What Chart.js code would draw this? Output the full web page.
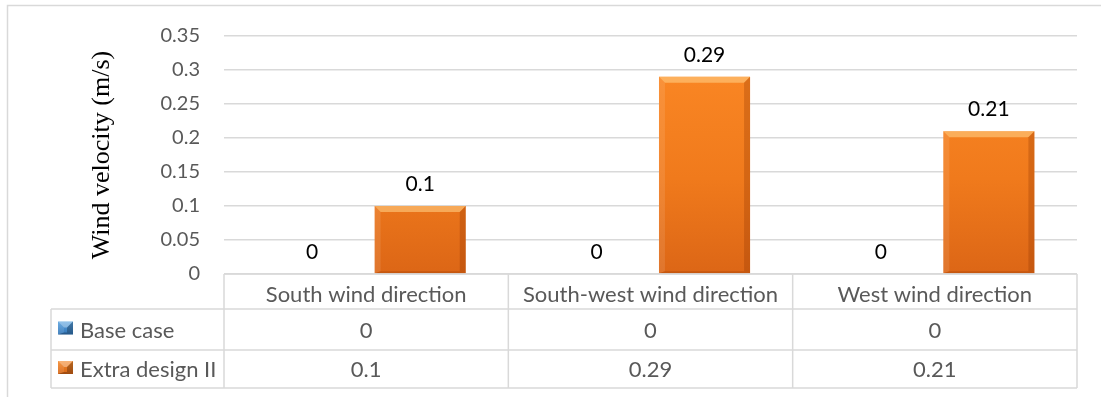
<!DOCTYPE html>
<html>
<head>
<meta charset="utf-8">
<script src="https://cdn.jsdelivr.net/npm/chart.js@4/dist/chart.umd.min.js"></script>
<style>
  html, body { margin: 0; padding: 0; background: #fff; }
  #wrap { width: 1101px; height: 397px; position: relative; }
</style>
</head>
<body>
<div id="wrap"><canvas id="chart"></canvas></div>
<script>
// データ ---------------
const categories = ["South wind direction", "South-west wind direction", "West wind direction"];
const seriesNames = ["Base case", "Extra design II"];
const baseCase = [0, 0, 0];
const extraDesign = [0.1, 0.29, 0.21];
const yTickLabels = ["0", "0.05", "0.1", "0.15", "0.2", "0.25", "0.3", "0.35"];
const yTitle = "Wind velocity (m/s)";

// 見た目 ---------------
const GRID = "#d9d9d9";
const TEXT = "#595959";
const FONT = "Lato, 'Open Sans', sans-serif";
const headerH = 35, row1H = 41, row2H = 38; // データ表の行の高さ
const tableLeft = 51;

function poly(c, pts, fill) {
  c.beginPath();
  c.moveTo(pts[0][0], pts[0][1]);
  for (let i = 1; i < pts.length; i++) c.lineTo(pts[i][0], pts[i][1]);
  c.closePath();
  c.fillStyle = fill;
  c.fill();
}

function line(c, x1, y1, x2, y2) {
  c.beginPath();
  c.moveTo(x1, y1);
  c.lineTo(x2, y2);
  c.stroke();
}

// 面取りっぽい棒の見た目
function drawBevel(c, l, t, r, b, light, dark) {
  const s = 6;
  poly(c, [[l, t], [r, t], [r - s, t + s], [l + s, t + s]], light);
  poly(c, [[l, t], [l + s, t + s], [l + s, b - 2], [l, b]], "rgba(255,255,255,0.10)");
  poly(c, [[r, t], [r, b], [r - s, b - 2], [r - s, t + s]], dark);
  poly(c, [[l, b], [r, b], [r - s, b - 2], [l + s, b - 2]], dark);
}

function orangeFill(ctx) {
  const area = ctx.chart.chartArea;
  if (!area) return "#f47f1e";
  const g = ctx.chart.ctx.createLinearGradient(0, area.top, 0, area.bottom);
  g.addColorStop(0, "#fd8a26");
  g.addColorStop(0.6, "#f07a1c");
  g.addColorStop(1, "#dc6616");
  return g;
}

// 外枠
const framePlugin = {
  id: "frame",
  beforeDraw(chart) {
    const c = chart.ctx;
    c.save();
    c.fillStyle = "#fff";
    c.fillRect(0, 0, chart.width, chart.height);
    c.strokeStyle = GRID;
    c.lineWidth = 1.5;
    c.strokeRect(7.5, 5.5, chart.width + 10, chart.height + 10);
    c.restore();
  }
};

// 棒の面取りと値ラベル
const barDecor = {
  id: "barDecor",
  afterDatasetsDraw(chart) {
    const c = chart.ctx;
    c.save();
    chart.data.datasets.forEach((ds, di) => {
      chart.getDatasetMeta(di).data.forEach((bar, i) => {
        const p = bar.getProps(["x", "y", "base", "width"], true);
        if (p.base - p.y > 2) {
          drawBevel(c, p.x - p.width / 2, p.y, p.x + p.width / 2, p.base,
            "rgba(255,205,130,0.6)", "rgba(140,50,0,0.28)");
        }
        c.fillStyle = "#000";
        c.font = "21px " + FONT;
        c.textAlign = "center";
        c.textBaseline = "alphabetic";
        c.fillText(String(ds.data[i]), p.x, p.y - 15);
      });
    });
    c.restore();
  }
};

// データ表
const dataTable = {
  id: "dataTable",
  afterDraw(chart) {
    const c = chart.ctx;
    const area = chart.chartArea;
    const xs = chart.scales.x;
    const colW = (area.right - area.left) / categories.length;
    const top = area.bottom, y1 = top + headerH, y2 = y1 + row1H, y3 = y2 + row2H;
    c.save();
    c.strokeStyle = GRID;
    c.lineWidth = 1.5;
    line(c, area.left, top, area.right, top);
    line(c, tableLeft, y1, area.right, y1);
    line(c, tableLeft, y2, area.right, y2);
    line(c, tableLeft, y3, area.right, y3);
    line(c, tableLeft, y1, tableLeft, y3);
    for (let i = 0; i <= categories.length; i++) {
      const xv = area.left + i * colW;
      line(c, xv, top, xv, y3);
    }

    c.fillStyle = TEXT;
    c.font = "22px " + FONT;
    c.textAlign = "center";
    c.textBaseline = "alphabetic";
    categories.forEach((cat, i) => c.fillText(cat, xs.getPixelForValue(i), top + headerH / 2 + 10));

    const rows = [[y1, row1H], [y2, row2H]];
    chart.data.datasets.forEach((ds, di) => {
      const [ry, rh] = rows[di];
      const cy = ry + rh / 2;
      c.textAlign = "center";
      c.fillStyle = TEXT;
      ds.data.forEach((v, i) => c.fillText(String(v), xs.getPixelForValue(i), cy + 8));
      c.textAlign = "left";
      c.fillText(seriesNames[di], 80, cy + 8);
      // 凡例キー
      const kx = 58, ky = cy - 8, ks = 15;
      const g = c.createLinearGradient(0, ky, 0, ky + ks);
      if (di === 0) { g.addColorStop(0, "#5aa3e0"); g.addColorStop(1, "#2d6eb0"); }
      else { g.addColorStop(0, "#f68a2c"); g.addColorStop(1, "#cf5f12"); }
      c.fillStyle = g;
      c.fillRect(kx, ky, ks, ks - 2);
      drawBevel(c, kx, ky, kx + ks, ky + ks - 2, "rgba(255,255,255,0.35)", "rgba(0,0,0,0.25)");
    });
    c.restore();
  }
};

const ctx = document.getElementById("chart").getContext("2d");
new Chart(ctx, {
  type: "bar",
  data: {
    labels: categories,
    datasets: [
      { label: seriesNames[0], data: baseCase, backgroundColor: "#3a86cc" },
      { label: seriesNames[1], data: extraDesign, backgroundColor: orangeFill }
    ]
  },
  options: {
    responsive: true,
    maintainAspectRatio: false,
    animation: false,
    events: [],
    layout: { padding: { left: 0, top: 35, right: 24, bottom: 123 } },
    datasets: {
      bar: { categoryPercentage: 0.76, barPercentage: 0.843, borderWidth: 0 }
    },
    plugins: {
      legend: { display: false },
      tooltip: { enabled: false }
    },
    scales: {
      x: { display: false },
      y: {
        min: 0,
        max: 0.35,
        ticks: {
          stepSize: 0.05,
          padding: 24,
          color: TEXT,
          font: { family: FONT, size: 20 },
          callback: (v, i) => yTickLabels[i]
        },
        grid: { color: GRID, lineWidth: 1.5, drawTicks: false },
        border: { display: false },
        title: {
          display: true,
          text: yTitle,
          color: "#000",
          font: { family: "'Liberation Serif', serif", size: 26 },
          padding: { top: 87, bottom: 0 }
        },
        afterFit(scale) { scale.width = 224; }
      }
    }
  },
  plugins: [framePlugin, barDecor, dataTable]
});
</script>
</body>
</html>
